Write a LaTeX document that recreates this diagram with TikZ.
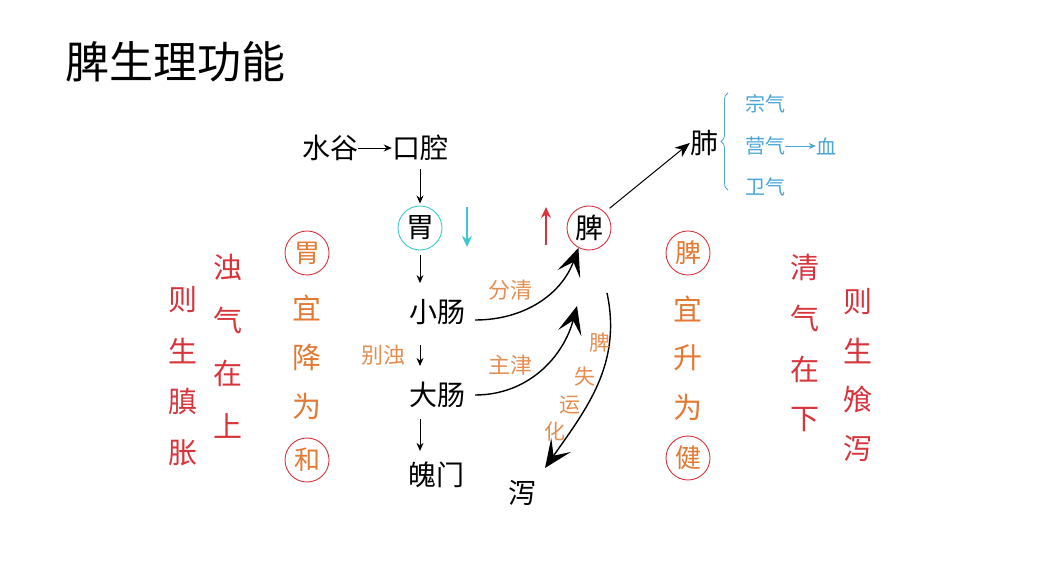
\documentclass[tikz,border=0pt]{standalone}
\usepackage{fontspec}
\setmainfont{Noto Sans CJK SC}
\usetikzlibrary{arrows.meta,decorations.pathreplacing}

\definecolor{zred}{HTML}{D8343C}
\definecolor{zorange}{HTML}{E27A34}
\definecolor{zcyan}{HTML}{3CC8D0}
\definecolor{zblue}{HTML}{4AA6D6}
\newcommand{\fs}[1]{\fontsize{#1}{#1}\selectfont}

\begin{document}
\begin{tikzpicture}[x=1pt, y=1pt, every node/.style={inner sep=0pt, font=\fs{28}},
    ring/.style={circle, draw=zred, line width=0.9pt, minimum size=44pt},
    redtxt/.style={text=zred, font=\fs{29}},
    orgtxt/.style={text=zorange, font=\fs{29}},
    lbl/.style={text=zorange!85, font=\fs{22}},
    qi/.style={text=zblue, font=\fs{20}},
    flow/.style={-{Stealth[length=8pt,width=7pt]}, line width=0.9pt},
    curvearrow/.style={-{Stealth[length=28pt,width=24pt,inset=13pt]}, line width=1.4pt}]
    % Background
    \fill[white] (0,0) rectangle (1043,578);
    \useasboundingbox (0,0) rectangle (1043,578);

    % Title
    \node (title) at (175,516) {\fs{44}脾生理功能};

    % Upper path
    \node (shuigu) at (330,430) {水谷};
    \node (kouqiang) at (420,430) {口腔};
    \draw[flow] (shuigu) -- (kouqiang);
    \node[ring, draw=zcyan] (wei) at (420,350) {胃};
    \node[ring] (pi) at (589,350) {脾};
    \draw[flow, shorten <=8pt, shorten >=2pt] (kouqiang) -- (wei);

    % Down and up
    \draw[-{Stealth[length=11pt,width=10pt]}, zcyan, line width=1.5pt] (467,371) -- (467,331);
    \draw[-{Stealth[length=11pt,width=10pt]}, zred, line width=1.5pt] (546,333) -- (546,371);

    % Lung
    \node (fei) at (704,435) {肺};
    \draw[-{Stealth[length=15pt,width=12pt]}, line width=1pt, shorten <=6pt] (pi.45) -- (fei.west);
    \draw[zblue, decorate, decoration={brace, amplitude=7pt}, line width=0.8pt] (728,388) -- (728,485);
    \node[qi] (zong) at (765,474) {宗气};
    \node[qi] (ying) at (765,432) {营气};
    \node[qi] (xue) at (826,432) {血};
    \draw[-{Stealth[length=7pt,width=6pt]}, zblue, line width=0.8pt] (ying) -- (xue);
    \node[qi] (weiqi) at (765,391) {卫气};

    % Lower path
    \node (xiaochang) at (437,266) {小肠};
    \node (dachang) at (437,183) {大肠};
    \node (pomen) at (436,103) {魄门};
    \node (xie) at (522,85) {泻};
    \draw[flow, shorten <=5pt, shorten >=16pt] (wei.south) -- (xiaochang.north -| wei);
    \draw[flow, shorten <=20pt, shorten >=16pt] (xiaochang.south -| wei) -- (dachang.north -| wei);
    \draw[flow, shorten <=11pt, shorten >=11pt] (dachang.south -| wei) -- (pomen.north -| wei);
    \node[lbl] (biezhuo) at (383,223) {别浊};

    % Curves
    \coordinate (jinEnd) at (577,272);
    \coordinate (yunStart) at (607,285);
    \coordinate (xieTip) at (545,110);
    \node[lbl] (fenqing) at (510,288) {分清};
    \node[lbl] (zhujin) at (510,213) {主津};
    \draw[curvearrow] ([shift={(10,-8)}]xiaochang.east) to[out=0, in=-110] (pi.242);
    \draw[curvearrow] ([shift={(10,0)}]dachang.east) to[out=0, in=-105] (jinEnd);
    \draw[curvearrow] (yunStart) to[out=-78, in=55] (xieTip);
    \foreach \c/\x/\y [count=\i] in {脾/600/235, 失/585/201, 运/570/173, 化/555/146}
        \node[lbl, font=\fs{21}] (yun\i) at (\x,\y) {\c};

    % Left columns
    \foreach \c [count=\i] in {则,生,䐜,胀}
        \node[redtxt] (zeA\i) at (183,329-51*\i) {\c};
    \foreach \c [count=\i] in {浊,气,在,上}
        \node[redtxt] (zhuo\i) at (228,364-53*\i) {\c};
    \node[ring, text=zorange, font=\fs{26}] (weiTop) at (307,325) {胃};
    \foreach \c [count=\i] in {宜,降,为}
        \node[orgtxt] (weiMid\i) at (307,319-49*\i) {\c};
    \node[ring, text=zorange, font=\fs{26}] (weiBot) at (307,118) {和};

    % Right columns
    \node[ring, text=zorange, font=\fs{26}] (piTop) at (688,325) {脾};
    \foreach \c [count=\i] in {宜,升,为}
        \node[orgtxt] (piMid\i) at (688,318-49*\i) {\c};
    \node[ring, text=zorange, font=\fs{26}] (piBot) at (688,120) {健};
    \foreach \c [count=\i] in {清,气,在,下}
        \node[redtxt] (qing\i) at (805,362-51*\i) {\c};
    \foreach \c [count=\i] in {则,生,飧,泻}
        \node[redtxt] (zeB\i) at (858,325-49*\i) {\c};
\end{tikzpicture}
\end{document}
